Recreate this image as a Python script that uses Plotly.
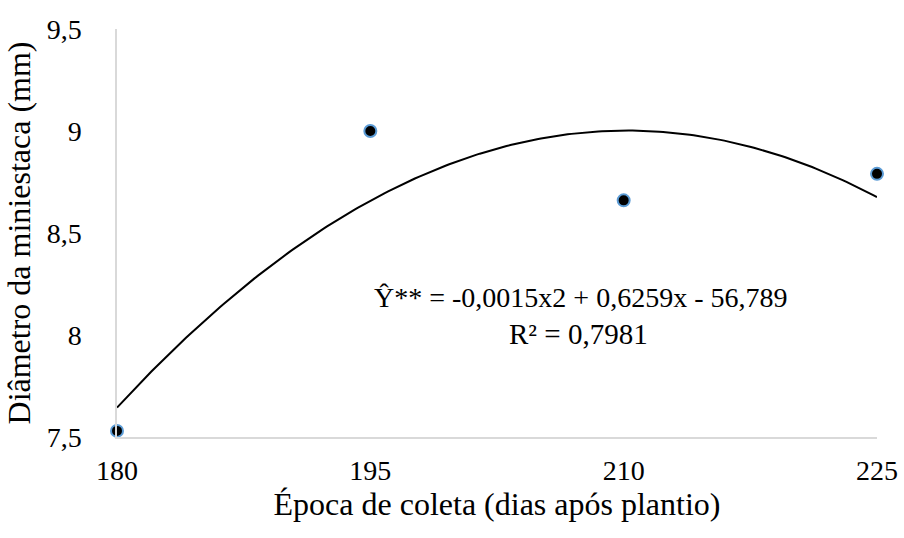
import numpy as np
import plotly.graph_objects as go

# Data
epoca = [180, 195, 210, 225]
diametro = [7.53, 9.00, 8.66, 8.79]
x_ticks = [180, 195, 210, 225]
x_ticklabels = ["180", "195", "210", "225"]
y_ticks = [7.5, 8.0, 8.5, 9.0, 9.5]
y_ticklabels = ["7,5", "8", "8,5", "9", "9,5"]
eq_line1 = "Ŷ** = -0,0015x2 + 0,6259x - 56,789"
eq_line2 = "R² = 0,7981"

# Polynomial (order 2) trendline fitted to the data
coef = np.polyfit(epoca, diametro, 2)
xs = np.linspace(min(epoca), max(epoca), 200)
ys = np.polyval(coef, xs)

font_family = "Liberation Serif, Times New Roman, serif"

fig = go.Figure()
fig.add_trace(go.Scatter(x=xs, y=ys, mode="lines",
                         line=dict(color="black", width=2),
                         hoverinfo="skip", showlegend=False))
fig.add_trace(go.Scatter(x=epoca, y=diametro, mode="markers",
                         marker=dict(color="black", size=12,
                                     line=dict(color="#5b9bd5", width=2)),
                         showlegend=False, cliponaxis=False))

fig.add_annotation(x=207.45, y=8.186, xref="x", yref="y", text=eq_line1,
                   showarrow=False, font=dict(family=font_family, size=28, color="black"))
fig.add_annotation(x=207.3, y=8.005, xref="x", yref="y", text=eq_line2,
                   showarrow=False, font=dict(family=font_family, size=29, color="black"))

fig.update_layout(
    width=904, height=538,
    margin=dict(l=117, r=27, t=29, b=101),
    paper_bgcolor="white", plot_bgcolor="white",
    font=dict(family=font_family, size=28, color="black"),
    showlegend=False,
    xaxis=dict(range=[180, 225], tickvals=x_ticks, ticktext=x_ticklabels,
               showgrid=False, zeroline=False, showline=True, automargin=False,
               linecolor="#d9d9d9", linewidth=1.5, ticks="",
               ticklabelstandoff=8, tickfont=dict(size=28),
               title=dict(text="Época de coleta (dias após plantio)",
                          font=dict(size=32), standoff=4)),
    yaxis=dict(range=[7.5, 9.5], tickvals=y_ticks, ticktext=y_ticklabels,
               showgrid=False, zeroline=False, showline=True, automargin=False,
               linecolor="#d9d9d9", linewidth=1.5, ticks="",
               ticklabelstandoff=28, tickfont=dict(size=28),
               title=dict(text="Diâmetro da miniestaca (mm)",
                          font=dict(size=32), standoff=6)),
)

fig.write_html("out.html")
